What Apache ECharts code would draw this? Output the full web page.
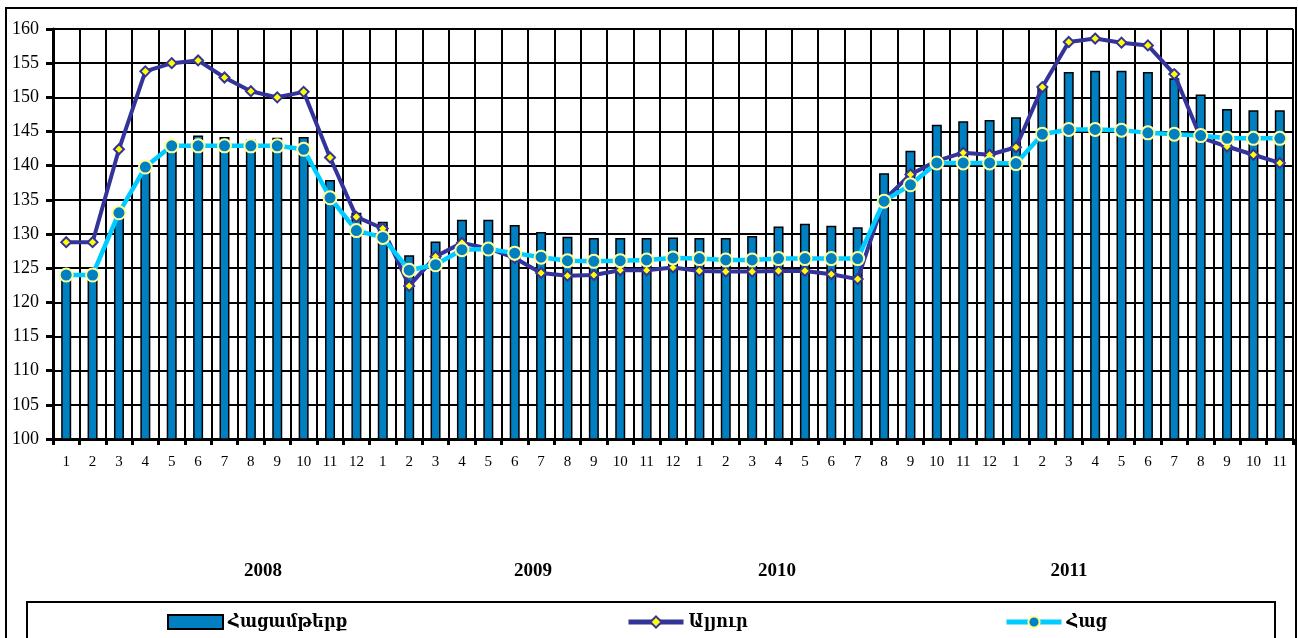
<!DOCTYPE html>
<html>
<head>
<meta charset="utf-8">
<script src="https://cdn.jsdelivr.net/npm/echarts@6/dist/echarts.min.js"></script>
<style>
html,body{margin:0;padding:0;background:#fff;}
#chart{width:1298px;height:638px;}
</style>
</head>
<body>
<div id="chart"></div>
<script>
// Month tick labels (2008:1-12, 2009:1-12, 2010:1-12, 2011:1-11)
const months = ['1','2','3','4','5','6','7','8','9','10','11','12',
                '1','2','3','4','5','6','7','8','9','10','11','12',
                '1','2','3','4','5','6','7','8','9','10','11','12',
                '1','2','3','4','5','6','7','8','9','10','11'];
const years = ['2008','2009','2010','2011'];

// Հացամթերք (bars)
const breadProducts = [
  124.3,124.3,133.0,139.8,143.0,144.4,144.2,143.8,144.1,144.2,137.9,133.1,
  131.8,126.9,128.9,132.1,132.1,131.3,130.3,129.6,129.4,129.4,129.4,129.5,
  129.4,129.4,129.7,131.1,131.5,131.2,131.0,138.9,142.2,146.0,146.5,146.7,
  147.1,151.5,153.7,153.9,153.9,153.7,152.8,150.4,148.3,148.1,148.1
];
// Ալյուր
const flour = [
  128.8,128.8,142.4,153.8,155.0,155.4,152.9,150.9,150.0,150.8,141.2,132.5,
  130.8,122.4,126.7,128.7,127.9,126.5,124.3,123.9,124.0,124.7,124.7,125.1,
  124.6,124.5,124.5,124.6,124.6,124.1,123.4,135.0,138.7,140.7,141.9,141.6,
  142.7,151.5,158.1,158.6,158.0,157.6,153.4,144.1,142.8,141.6,140.4
];
// Հաց
const bread = [
  124.0,124.0,133.1,139.8,142.9,142.9,142.9,142.9,142.9,142.4,135.3,130.5,
  129.5,124.7,125.5,127.7,127.8,127.2,126.6,126.1,126.0,126.1,126.2,126.5,
  126.4,126.2,126.2,126.4,126.4,126.4,126.4,134.8,137.2,140.4,140.4,140.4,
  140.3,144.6,145.3,145.3,145.2,144.8,144.6,144.4,144.0,144.0,144.0
];
const seriesNames = ['Հացամթերք','Ալյուր','Հաց'];

const chart = echarts.init(document.getElementById('chart'), null, {renderer:'canvas'});
const serif = '"Liberation Serif", "DejaVu Serif", serif';
const legendText = {fontFamily:'"DejaVu Serif Condensed", "DejaVu Serif", serif', fontWeight:'bold', fontSize:18, color:'#000'};
const yearX = [263, 533, 777, 1069];

const option = {
  animation:false,
  backgroundColor:'#fff',
  grid:{left:53, right:5, top:29, bottom:199, containLabel:false},
  legend:[
    {data:[{name:seriesNames[0], icon:'rect'}], left:162, top:608, itemWidth:55, itemHeight:14, textStyle:legendText, selectedMode:false,
     itemStyle:{borderColor:'#000', borderWidth:2}},
    {data:[seriesNames[1]], left:621, top:608, itemWidth:55, itemHeight:14, textStyle:legendText, selectedMode:false,
     lineStyle:{width:5}},
    {data:[seriesNames[2]], left:999, top:608, itemWidth:55, itemHeight:14, textStyle:legendText, selectedMode:false,
     lineStyle:{width:5}}
  ],
  xAxis:{
    type:'category', data:months, boundaryGap:true,
    axisLine:{lineStyle:{color:'#000', width:3}},
    axisTick:{show:true, length:6, lineStyle:{color:'#000', width:3}},
    axisLabel:{interval:0, fontFamily:serif, fontSize:15, color:'#000', margin:16},
    splitLine:{show:true, lineStyle:{color:'#000', width:2}}
  },
  yAxis:{
    type:'value', min:100, max:160, interval:5,
    axisLine:{show:true, lineStyle:{color:'#000', width:3}},
    axisTick:{show:true, length:7, lineStyle:{color:'#000', width:3}},
    axisLabel:{fontFamily:serif, fontSize:18, color:'#000', margin:14},
    splitLine:{show:true, lineStyle:{color:'#000', width:2}}
  },
  series:[
    {name:seriesNames[0], type:'bar', data:breadProducts, barWidth:10,
     itemStyle:{color:'#0080C0', borderColor:'#000', borderWidth:1.5}},
    {name:seriesNames[1], type:'line', data:flour, symbol:'diamond', symbolSize:10, z:3,
     lineStyle:{color:'#333399', width:4},
     itemStyle:{color:'#FFFF00', borderColor:'#333399', borderWidth:2}},
    {name:seriesNames[2], type:'line', data:bread, symbol:'circle', symbolSize:13, z:4,
     lineStyle:{color:'#00CCFF', width:4.5},
     itemStyle:{color:'#0080C0', borderColor:'#FFFF99', borderWidth:2}}
  ],
  graphic:[
    {type:'rect', shape:{x:6, y:8, width:1290, height:650}, style:{fill:null, stroke:'#000', lineWidth:2}, silent:true, z:-10},
    {type:'rect', shape:{x:27, y:602, width:1248, height:60}, style:{fill:null, stroke:'#000', lineWidth:2}, silent:true, z:-10}
  ].concat(years.map((y,i)=>({
    type:'text', x:yearX[i], y:571,
    style:{text:y, fontFamily:serif, fontWeight:'bold', fontSize:19, fill:'#000', textAlign:'center', textVerticalAlign:'middle'},
    silent:true
  })))
};
chart.setOption(option);
</script>
</body>
</html>
